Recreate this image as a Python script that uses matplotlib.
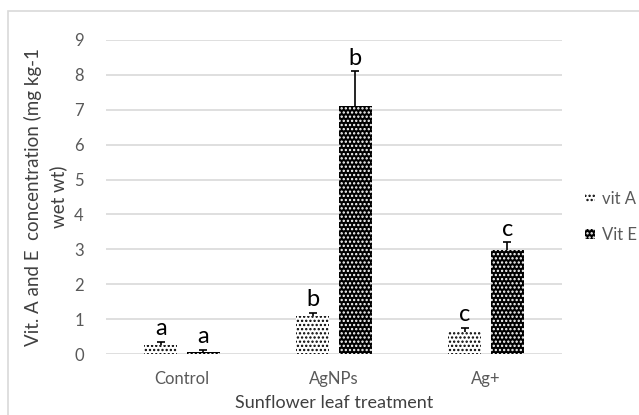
import matplotlib.pyplot as plt
import numpy as np
from matplotlib.patches import Patch, Rectangle

plt.rcParams['font.family'] = ['Lato', 'DejaVu Sans']
plt.rcParams['hatch.linewidth'] = 1.1

# data
treatments = ['Control', 'AgNPs', 'Ag+']
vit_a = [0.27, 1.10, 0.62]
vit_a_err = [0.08, 0.07, 0.12]
vit_e = [0.07, 7.10, 2.98]
vit_e_err = [0.04, 1.00, 0.22]
vit_a_letters = ['a', 'b', 'c']
vit_e_letters = ['a', 'b', 'c']

fig = plt.figure(figsize=(6.39, 4.15), dpi=100)
ax = fig.add_axes([106/639, 1 - 354/415, 456/639, 314/415])

# light frame around the chart area (cut off at right and bottom)
fig.patches.append(Rectangle((7.5/639, -0.1), 1.2, 1.1 - 11/415, transform=fig.transFigure,
                             fill=False, edgecolor='#d9d9d9', linewidth=1.2))

x = np.arange(len(treatments))
w = 0.22
off = 0.14

ax.bar(x - off, vit_a, w, color='white', edgecolor='black', hatch='....', linewidth=0, zorder=3)
ax.bar(x + off, vit_e, w, color='black', edgecolor='white', hatch='....', linewidth=0, zorder=3)

# upper error bars only
for xs, vals, errs in [(x - off, vit_a, vit_a_err), (x + off, vit_e, vit_e_err)]:
    _, caps, _ = ax.errorbar(xs, vals, yerr=[np.zeros(3), errs], fmt='none', ecolor='black',
                             elinewidth=1.2, capsize=3, capthick=1.2, zorder=4)
    caps[0].set_visible(False)

for i in range(3):
    ax.text(x[i] - off, vit_a[i] + vit_a_err[i] + 0.08, vit_a_letters[i], ha='center', va='bottom', fontsize=17)
    ax.text(x[i] + off, vit_e[i] + vit_e_err[i] + 0.08, vit_e_letters[i], ha='center', va='bottom', fontsize=17)

ax.set_xlim(-0.5, 2.5)
ax.set_ylim(0, 9)
ax.set_yticks(range(10))
ax.yaxis.grid(True, color='#d9d9d9', linewidth=1.2)
ax.set_axisbelow(True)
for s in ax.spines.values():
    s.set_visible(False)
ax.tick_params(length=0, labelsize=12, labelcolor='#595959')
ax.tick_params(axis='y', pad=16)
ax.tick_params(axis='x', pad=12)
ax.set_xticks(x)
ax.set_xticklabels(treatments)

ax.set_xlabel('Sunflower leaf treatment', fontsize=13, color='#404040', labelpad=6)
fig.text(0.071, 1 - 197/415, 'Vit. A and E  concentration (mg kg-1\nwet wt)', rotation=90,
         ha='center', va='center', multialignment='center', fontsize=13.5, color='#404040',
         linespacing=1.45)

handles = [Patch(facecolor='white', edgecolor='black', hatch='....', linewidth=0),
           Patch(facecolor='black', edgecolor='white', hatch='....', linewidth=0)]
fig.legend(handles, ['vit A', 'Vit E'], loc='center left', bbox_to_anchor=(570/639, 1 - 217/415),
           frameon=False, handlelength=0.6, handleheight=0.6, handletextpad=0.4,
           labelspacing=1.2, fontsize=12, labelcolor='#595959')

fig.savefig('out.png', dpi=100)
